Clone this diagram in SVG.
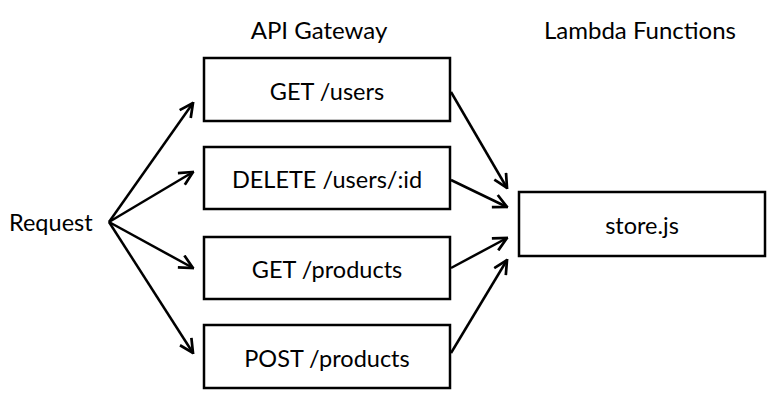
<svg xmlns="http://www.w3.org/2000/svg" width="781" height="407" viewBox="0 0 781 407">
<style>
text{font-family:Lato,"Open Sans","Liberation Sans",sans-serif;font-size:23.5px;fill:#000}
.h{font-size:24px}
.box{fill:#fff;stroke:#000;stroke-width:2.5}
.c{fill:none;stroke:#000;stroke-width:2.5;marker-end:url(#a)}
</style>
<defs>
<marker id="a" viewBox="0 0 12 12" refX="11" refY="6" markerWidth="6.5" markerHeight="6.5" orient="auto" markerUnits="strokeWidth">
<path d="M1,1 L11,6 L1,11" fill="none" stroke="#000" stroke-width="2"/>
</marker>
</defs>
<rect width="781" height="407" fill="#fff"/>
<text class="h" x="319" y="39" text-anchor="middle">API Gateway</text>
<text class="h" x="640" y="39" text-anchor="middle">Lambda Functions</text>
<g id="request"><text x="9" y="231">Request</text></g>
<g id="get-users"><rect class="box" x="204" y="58" width="246" height="63"/><text x="327" y="100" text-anchor="middle">GET /users</text></g>
<g id="delete-user"><rect class="box" x="204" y="147" width="246" height="62"/><text x="327" y="188" text-anchor="middle">DELETE /users/:id</text></g>
<g id="get-products"><rect class="box" x="204" y="237" width="246" height="62"/><text x="327" y="278" text-anchor="middle">GET /products</text></g>
<g id="post-products"><rect class="box" x="204" y="325" width="246" height="63"/><text x="327" y="367" text-anchor="middle">POST /products</text></g>
<g id="store"><rect class="box" x="519" y="192" width="246" height="64"/><text x="642" y="234" text-anchor="middle">store.js</text></g>
<g id="connectors">
<line class="c" x1="109" y1="222" x2="193" y2="103"/>
<line class="c" x1="109" y1="222" x2="193" y2="172"/>
<line class="c" x1="109" y1="222" x2="193" y2="268"/>
<line class="c" x1="109" y1="222" x2="193" y2="353"/>
<line class="c" x1="451" y1="92" x2="507" y2="188"/>
<line class="c" x1="451" y1="180" x2="507" y2="207"/>
<line class="c" x1="451" y1="268" x2="507" y2="238"/>
<line class="c" x1="451" y1="353" x2="507" y2="260"/>
</g>
</svg>
